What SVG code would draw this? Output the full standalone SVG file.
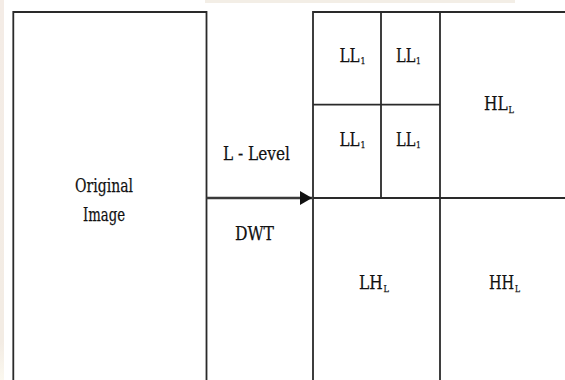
<svg xmlns="http://www.w3.org/2000/svg" width="565" height="380" viewBox="0 0 565 380">
  <defs>
    <style>
      .ln { fill: none; stroke: #2a2a2a; stroke-width: 1.8; }
      .t { font-family: "DejaVu Serif", "Liberation Serif", serif; font-size: 19px; fill: #111; stroke: #111; stroke-width: 0.25; }
      .s { font-size: 10px; }
    </style>
    <marker id="ah" viewBox="0 0 12 14" refX="12" refY="7" markerWidth="12" markerHeight="14" markerUnits="userSpaceOnUse" orient="auto">
      <path d="M0,0 L12,7 L0,14 Z" fill="#111"/>
    </marker>
    <linearGradient id="lg" x1="0" y1="0" x2="0" y2="1">
      <stop offset="0" stop-color="#f4ece6"/>
      <stop offset="0.9" stop-color="#f3ece4"/>
      <stop offset="1" stop-color="#fbf8ef"/>
    </linearGradient>
  </defs>
  <rect width="565" height="380" fill="#ffffff"/>
  <rect x="0" y="0" width="4" height="380" fill="url(#lg)"/>
  <rect x="205" y="0" width="310" height="3" fill="#f3eee6"/>

  <g id="original-image">
    <path class="ln" d="M13.3,380 V12 H206.5 V380"/>
    <text class="t" x="75" y="192" textLength="58" lengthAdjust="spacingAndGlyphs">Original</text>
    <text class="t" x="83" y="221" textLength="42" lengthAdjust="spacingAndGlyphs">Image</text>
  </g>

  <g id="dwt-label">
    <text class="t" x="223" y="160" textLength="67" lengthAdjust="spacingAndGlyphs">L - Level</text>
    <text class="t" x="235" y="240" textLength="39" lengthAdjust="spacingAndGlyphs">DWT</text>
  </g>

  <g id="decomposition">
    <path class="ln" d="M313,380 V12 H565"/>
    <path class="ln" d="M313,198 H565"/>
    <path class="ln" d="M440,12 V380"/>
    <path class="ln" d="M381,12 V198"/>
    <path class="ln" d="M313,104.7 H440"/>
  </g>

  <g id="ll1-a">
    <text class="t" x="339.5" y="62" textLength="26" lengthAdjust="spacingAndGlyphs">LL<tspan class="s" dx="1" dy="2">1</tspan></text>
  </g>
  <g id="ll1-b">
    <text class="t" x="396" y="62" textLength="25" lengthAdjust="spacingAndGlyphs">LL<tspan class="s" dx="1" dy="2">1</tspan></text>
  </g>
  <g id="ll1-c">
    <text class="t" x="339.5" y="146" textLength="26" lengthAdjust="spacingAndGlyphs">LL<tspan class="s" dx="1" dy="2">1</tspan></text>
  </g>
  <g id="ll1-d">
    <text class="t" x="396" y="146" textLength="25" lengthAdjust="spacingAndGlyphs">LL<tspan class="s" dx="1" dy="2">1</tspan></text>
  </g>
  <g id="hl">
    <text class="t" x="484" y="110" textLength="30" lengthAdjust="spacingAndGlyphs">HL<tspan class="s" dx="1" dy="3">L</tspan></text>
  </g>
  <g id="lh">
    <text class="t" x="359" y="289" textLength="30" lengthAdjust="spacingAndGlyphs">LH<tspan class="s" dx="1" dy="3">L</tspan></text>
  </g>
  <g id="hh">
    <text class="t" x="489" y="289" textLength="31" lengthAdjust="spacingAndGlyphs">HH<tspan class="s" dx="1" dy="3">L</tspan></text>
  </g>

  <g id="connectors">
    <line x1="206.5" y1="198" x2="312" y2="198" stroke="#3a3a3a" stroke-width="2.4" marker-end="url(#ah)"/>
  </g>
</svg>
